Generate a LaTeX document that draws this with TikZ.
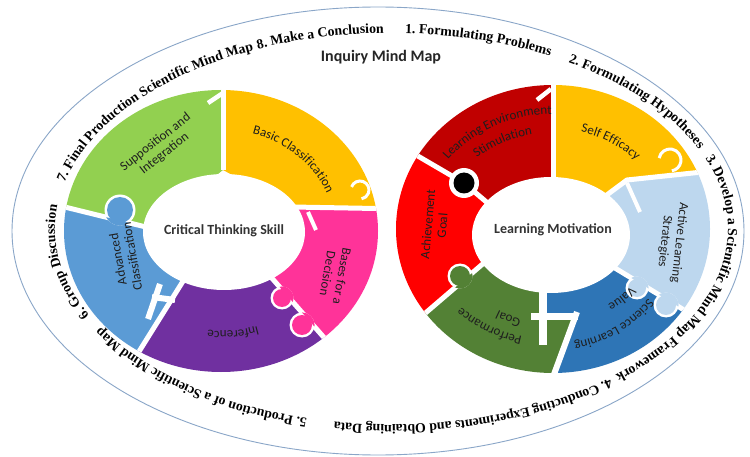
\documentclass[tikz,border=0pt]{standalone}
\usepackage{fontspec}
\setmainfont{Liberation Serif}
\newfontfamily\calib{Carlito}
\usetikzlibrary{decorations.text}
\definecolor{lgreen}{HTML}{92D050}
\definecolor{gold}{HTML}{FFC000}
\definecolor{hpink}{HTML}{FF3399}
\definecolor{purp}{HTML}{7030A0}
\definecolor{mblue}{HTML}{5B9BD5}
\definecolor{dred}{HTML}{C00000}
\definecolor{bred}{HTML}{FF0000}
\definecolor{dgreen}{HTML}{538135}
\definecolor{dblue}{HTML}{2E75B6}
\definecolor{lblue}{HTML}{BDD7EE}
\definecolor{rimblue}{HTML}{8AA6C8}
\definecolor{txt}{HTML}{1E1E1E}
\newcommand\rimfont{\fontsize{13.8}{15}\selectfont\bfseries}
\newcommand\labfont{\calib\fontsize{13}{14}\selectfont\color{txt}}
\newcommand\rimtext[3]{\path[decorate,decoration={text along path,text align=left,text={|\rimfont|#3}}] (391.5,-229) ++(#1:336.5 and 196) arc[start angle=#1,end angle=#2,x radius=336.5,y radius=196];}
\newcommand\arclabel[7]{\path[decorate,decoration={text along path,text align=center,text={|\labfont|#7}}] (#1,#2) ++(#5:#3 and #4) arc[start angle=#5,end angle=#6,x radius=#3,y radius=#4];}
\newcommand\knob[4]{\fill[white] #1 circle (#2+2.5);\fill[#3] #1 circle (#2);\begin{scope}\clip #4;\fill[#3] #1 circle (#2+2.6);\end{scope}}
% left ring regions
\newcommand\PLyellow{(223,-170) -- (223,-60) -- (460,-60) -- (460,-210) -- (292,-207) -- cycle}
\newcommand\PLpink{(292,-207) -- (460,-210) -- (460,-430) -- (370,-390) -- (270,-276) -- cycle}
\newcommand\PLpurple{(270,-276) -- (370,-390) -- (250,-440) -- (110,-398) -- (185,-278) -- cycle}
\newcommand\PLblue{(185,-278) -- (110,-398) -- (20,-398) -- (20,-196) -- (150,-228) -- cycle}
\newcommand\PLgreen{(150,-228) -- (20,-196) -- (20,-60) -- (223,-60) -- (223,-170) -- cycle}
% right ring regions
\newcommand\PRyellow{(553,-182) -- (553,-60) -- (740,-60) -- (740,-168) -- (627,-180) -- (600,-200) -- cycle}
\newcommand\PRlblue{(600,-200) -- (627,-180) -- (740,-168) -- (740,-344) -- (605,-262) -- cycle}
\newcommand\PRdblue{(605,-262) -- (740,-344) -- (740,-420) -- (540,-420) -- (546,-396) -- (577,-316) -- (543,-316) -- (543,-285) -- cycle}
\newcommand\PRgreen{(543,-285) -- (543,-316) -- (577,-316) -- (546,-396) -- (540,-420) -- (380,-420) -- (380,-352) -- (485,-262) -- cycle}
\newcommand\PRred{(485,-262) -- (380,-352) -- (360,-352) -- (360,-131) -- (375,-131) -- (413,-153) -- (464,-183) -- (490,-205) -- cycle}
\newcommand\PRdred{(490,-205) -- (464,-183) -- (413,-153) -- (375,-131) -- (375,-60) -- (553,-60) -- (553,-182) -- cycle}
\begin{document}
\begin{tikzpicture}[x=1pt,y=1pt,
  gap/.style={white,line width=5pt},
  digit/.style={white,line width=#1},
  seglabel/.style={font=\calib\fontsize{13}{14.5}\selectfont, text=txt, align=center, inner sep=0pt},
  centerlabel/.style={font=\calib\bfseries\fontsize{14}{16}\selectfont, text=black!80, inner sep=0pt}]
\useasboundingbox (0,0) rectangle (750,-457);
\fill[white] (0,0) rectangle (750,-457);
% outer rim
\draw[rimblue, line width=0.9pt] (378,-231) ellipse [x radius=366, y radius=224];
\node[font=\calib\bfseries\fontsize{16}{18}\selectfont, text=black!85] (title) at (381,-57) {Inquiry Mind Map};
% ---------- left ring ----------
\begin{scope}
\clip (221,-231) ellipse [x radius=157, y radius=141];
\fill[gold] \PLyellow;
\fill[hpink] \PLpink;
\fill[purp] \PLpurple;
\fill[mblue] \PLblue;
\fill[lgreen] \PLgreen;
\draw[gap] (223,-170) -- (223,-60);
\draw[gap] (292,-207) -- (460,-210);
\draw[gap] (270,-276) -- (370,-390);
\draw[gap] (185,-278) -- (110,-398);
\draw[gap] (150,-228) -- (20,-196);
\draw[digit=4.5pt] (223,-93) -- (208,-103);
\draw[digit=3pt] (360,-190) ++(160:9) arc[start angle=160, end angle=-80, radius=9];
\draw[digit=4pt] (308,-212) -- (316,-230);
\draw[digit=6pt] (160,-284) -- (148,-319);
\draw[digit=6pt] (152,-297) -- (175,-300);
\knob{(120,-210)}{13}{mblue}{\PLblue}
\knob{(282,-298)}{9}{hpink}{\PLpink}
\knob{(302,-325)}{10}{hpink}{\PLpink}
\end{scope}
\fill[white] (224,-232) ellipse [x radius=81, y radius=58];
% ---------- right ring ----------
\begin{scope}
\clip (553,-229) ellipse [x radius=157, y radius=144];
\fill[gold] \PRyellow;
\fill[lblue] \PRlblue;
\fill[dblue] \PRdblue;
\fill[dgreen] \PRgreen;
\fill[bred] \PRred;
\fill[dred] \PRdred;
\draw[gap] (553,-182) -- (553,-60);
\draw[gap] (600,-200) -- (627,-180) -- (740,-168);
\draw[gap] (605,-262) -- (740,-344);
\draw[digit=8pt] (543,-285) -- (543,-345);
\draw[digit=7pt] (531,-316) -- (578,-316);
\draw[digit=6pt] (577,-312) -- (546,-396);
\draw[gap] (485,-262) -- (380,-352);
\draw[gap] (490,-205) -- (464,-183) -- (375,-131);
\draw[digit=4.5pt] (551,-89) -- (537,-100);
\draw[digit=3pt] (670,-160) ++(170:11) arc[start angle=170, end angle=-80, radius=11];
\draw[digit=4pt] (627,-183) -- (640,-212);
\knob{(637,-288)}{9}{lblue}{\PRlblue}
\knob{(666,-305)}{10}{lblue}{\PRlblue}
\knob{(460,-276)}{10}{dgreen}{\PRgreen}
\fill[white] (464,-183) circle (15);
\fill[black] (464,-183) circle (10.5);
\end{scope}
\fill[white] (551,-235) ellipse [x radius=79, y radius=58];
% ---------- rim text ----------
\rimtext{87.7}{58.5}{1. Formulating Problems}
\rimtext{58.3}{21.4}{2. Formulating Hypotheses}
\rimtext{21.2}{-49.5}{3. Develop a Scientific Mind Map Framework}
\rimtext{-49.6}{-104.3}{4. Conducting Experiments and Obtaining Data}
\rimtext{-104.5}{-153.7}{5. Production of a Scientific Mind Map}
\rimtext{-153.9}{-193.5}{6. Group Discussion}
\rimtext{-193.7}{-246.5}{7. Final Production Scientific Mind Map}
\rimtext{-246.6}{-275}{8. Make a Conclusion}
% ---------- curved labels ----------
\arclabel{221}{-231}{114}{101}{80}{15}{Basic Classification}
\arclabel{221}{-231}{118}{100}{-54}{-114}{Inference}
\arclabel{553}{-229}{131}{115}{147}{87}{Learning Environment}
\arclabel{553}{-229}{113}{96}{147}{87}{Stimulation}
\arclabel{553}{-229}{114}{100}{90}{28}{Self Efficacy}
\arclabel{553}{-229}{120}{115}{-28}{-89}{Science Learning}
\arclabel{553}{-229}{102}{90}{-18}{-78}{Value}
\arclabel{553}{-229}{130}{111}{-90}{-150}{Performance}
\arclabel{553}{-229}{110}{94}{-84}{-144}{Goal}
% ---------- straight labels ----------
\node[seglabel, rotate=38] (sup) at (160,-148) {Supposition and\\Integration};
\node[seglabel, rotate=-100] (bfd) at (335,-275) {Bases for a\\Decision};
\node[seglabel, rotate=100] (adv) at (125,-258) {Advanced\\Classification};
\node[centerlabel] (cts) at (224,-231) {Critical Thinking Skill};
\node[seglabel, rotate=-96] (als) at (672,-242) {Active Learning\\Strategies};
\node[seglabel, rotate=85] (ag) at (435,-225) {Achievement\\Goal};
\node[centerlabel] (lm) at (553,-230) {Learning Motivation};
\end{tikzpicture}
\end{document}
